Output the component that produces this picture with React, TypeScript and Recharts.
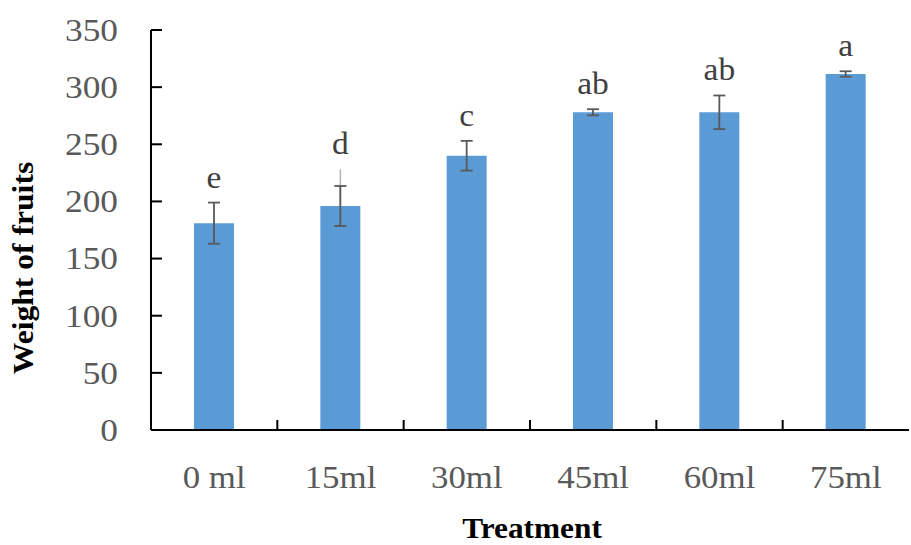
import React from 'react';
import { BarChart, Bar, XAxis, YAxis, ErrorBar, Label } from 'recharts';

const categories = ['0 ml', '15ml', '30ml', '45ml', '60ml', '75ml'];
const weights = [181, 196, 240, 278, 278, 311.5];
const errors = [18, 17.5, 13, 2.7, 14.7, 2.4];
const faintUpper = [1.5, 32, 0, 0, 0, 0];
const letters = ['e', 'd', 'c', 'ab', 'ab', 'a'];
const yTicks = [0, 50, 100, 150, 200, 250, 300, 350];

const data = categories.map((name, i) => ({
  name,
  weight: weights[i],
  err: errors[i],
  faint: [0, faintUpper[i]],
  letter: letters[i],
}));

const FONT = '"Liberation Serif", "Times New Roman", serif';

const YTick = (props: any) => {
  const { x, y, payload } = props;
  return (
    <g>
      <line x1={x} x2={x + 11} y1={y} y2={y} stroke="#000" strokeWidth={2} />
      <g transform={`translate(${x - 33},${y}) scale(1.14,1)`}>
        <text x={0} y={0} dy="0.35em" textAnchor="end" fontFamily={FONT} fontSize={31} fill="#595959">
          {payload.value}
        </text>
      </g>
    </g>
  );
};

const XTick = (props: any) => {
  const { x, y, payload, index } = props;
  const off = payload && payload.offset ? payload.offset : 63;
  return (
    <g>
      {index < categories.length - 1 && (
        <line x1={x + off} x2={x + off} y1={y} y2={y - 10} stroke="#000" strokeWidth={2} />
      )}
      <g transform={`translate(${x},${y + 47}) scale(1.09,1)`}>
        <text x={0} y={0} dy="0.35em" textAnchor="middle" fontFamily={FONT} fontSize={32} fill="#595959">
          {payload.value}
        </text>
      </g>
    </g>
  );
};

const LetterLabel = (props: any) => {
  const { x, y, width, height, index } = props;
  const i = index ?? 0;
  const ppu = height / weights[i];
  const top = y - Math.max(errors[i], faintUpper[i]) * ppu;
  return (
    <g transform={`translate(${x + width / 2},${top - 15}) scale(1.08,1)`}>
      <text x={0} y={0} textAnchor="middle" fontFamily={FONT} fontSize={31} fill="#404040">
        {letters[i]}
      </text>
    </g>
  );
};

export default function App() {
  return (
    <div style={{ position: 'absolute', left: 0, top: 0, background: '#fff' }}>
      <BarChart width={911} height={545} data={data} margin={{ top: 30, right: 2, left: 0, bottom: 0 }}>
        <XAxis
          dataKey="name"
          height={115}
          tickSize={0}
          tickMargin={0}
          tickLine={false}
          axisLine={{ stroke: '#000', strokeWidth: 2 }}
          tick={<XTick />}
          interval={0}
        >
          <Label
            content={(p: any) => {
              const vb = p.viewBox;
              return (
                <g transform={`translate(${vb.x + vb.width / 2 + 2},538) scale(1.08,1)`}>
                  <text x={0} y={0} textAnchor="middle" fontFamily={FONT} fontSize={29} fontWeight="bold" fill="#000">
                    Treatment
                  </text>
                </g>
              );
            }}
          />
        </XAxis>
        <YAxis
          width={151}
          domain={[0, 350]}
          ticks={yTicks}
          interval={0}
          tickSize={0}
          tickMargin={0}
          tickLine={false}
          axisLine={{ stroke: '#000', strokeWidth: 2 }}
          tick={<YTick />}
        >
          <Label
            content={() => (
              <g transform="translate(23,268) rotate(-90) scale(1.09,1)">
                <text
                  x={0}
                  y={0}
                  dy="0.35em"
                  textAnchor="middle"
                  fontFamily={FONT}
                  fontSize={29}
                  fontWeight="bold"
                  fill="#000"
                >
                  Weight of fruits
                </text>
              </g>
            )}
          />
        </YAxis>
        <Bar dataKey="weight" fill="#5B9BD5" barSize={40} isAnimationActive={false} label={<LetterLabel />}>
          <ErrorBar dataKey="faint" width={0} stroke="#b3b3b3" strokeWidth={1.5} />
          <ErrorBar dataKey="err" width={6} stroke="#595959" strokeWidth={1.8} />
        </Bar>
      </BarChart>
    </div>
  );
}
